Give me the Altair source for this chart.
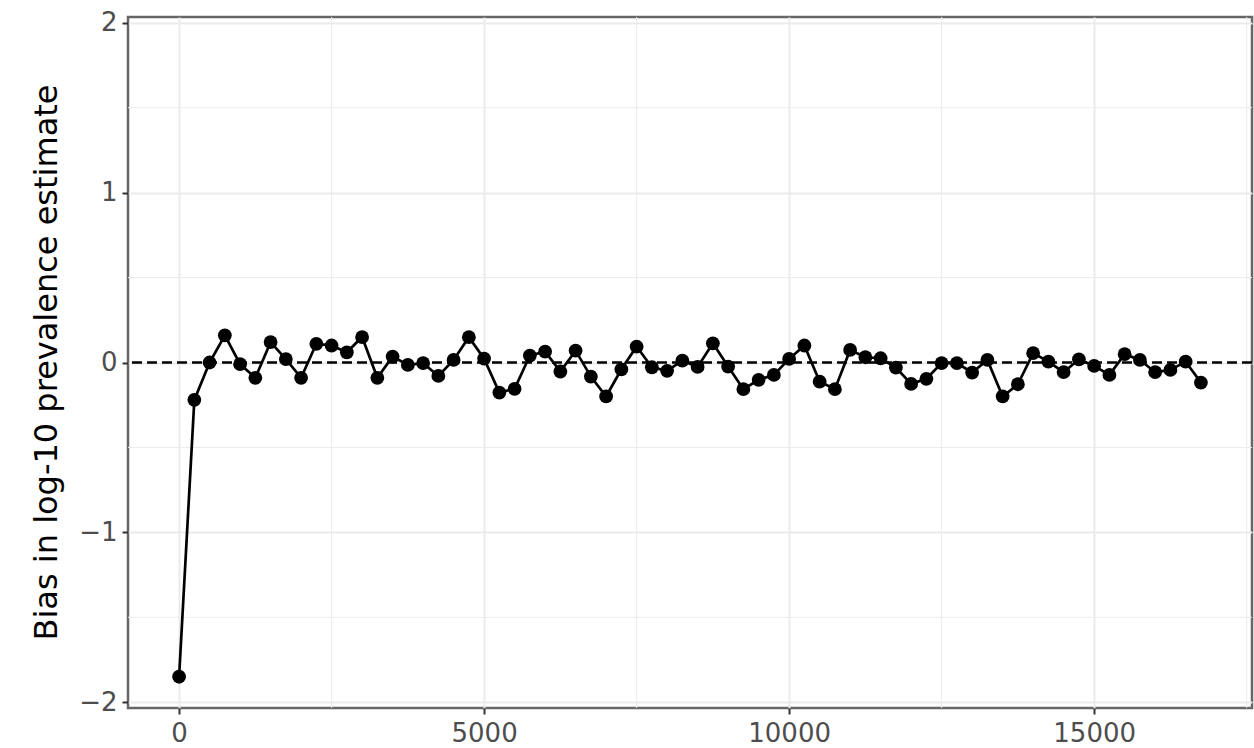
import altair as alt
import pandas as pd

steps = [250 * k for k in range(68)]
bias = [
    -1.85, -0.22, 0.00, 0.16, -0.01, -0.09, 0.12, 0.02, -0.09, 0.11,
    0.10, 0.06, 0.15, -0.09, 0.035, -0.014, -0.004, -0.079, 0.015, 0.149,
    0.023, -0.177, -0.155, 0.041, 0.064, -0.053, 0.07, -0.083, -0.20, -0.04,
    0.094, -0.028, -0.049, 0.011, -0.026, 0.113, -0.024, -0.157, -0.102, -0.073,
    0.021, 0.10, -0.112, -0.157, 0.074, 0.031, 0.025, -0.03, -0.126, -0.096,
    -0.004, -0.004, -0.059, 0.015, -0.20, -0.128, 0.055, 0.005, -0.057, 0.019,
    -0.02, -0.073, 0.049, 0.015, -0.057, -0.044, 0.005, -0.118,
]
x_ticks = [0, 5000, 10000, 15000]
y_ticks = [-2, -1, 0, 1, 2]
x_minor = [2500, 7500, 12500, 17500]
y_minor = [-1.5, -0.5, 0.5, 1.5]

df = pd.DataFrame({"step": steps, "bias": bias})

xs = alt.Scale(domain=[-837.5, 17587.5], nice=False, zero=False)
ys = alt.Scale(domain=[-2.034, 2.034], nice=False, zero=False)

x_axis = alt.Axis(values=x_ticks, format="d", title=None, grid=True, gridColor="#EBEBEB",
                  gridWidth=2, domain=False, tickColor="#333333", tickWidth=2, tickSize=6,
                  labelPadding=6, labelFontSize=26, labelColor="#4D4D4D",
                  labelFont="DejaVu Sans")
y_axis = alt.Axis(values=y_ticks, format="d", title="Bias in log-10 prevalence estimate",
                  grid=True, gridColor="#EBEBEB", gridWidth=2, domain=False,
                  tickColor="#333333", tickWidth=2, tickSize=6, labelPadding=5,
                  labelFontSize=26, labelColor="#4D4D4D", labelFont="DejaVu Sans",
                  titleFont="DejaVu Sans", titleFontSize=32, titleFontWeight="normal",
                  titleColor="#000000", titleX=-82, titleY=345, titleAngle=270,
                  titleAlign="center", titleBaseline="middle")

xminor_df = pd.DataFrame({"v": x_minor})
yminor_df = pd.DataFrame({"v": y_minor})

xmin = alt.Chart(xminor_df).mark_rule(color="#EBEBEB", strokeWidth=1).encode(
    x=alt.X("v:Q", scale=xs, axis=x_axis))
ymin = alt.Chart(yminor_df).mark_rule(color="#EBEBEB", strokeWidth=1).encode(
    y=alt.Y("v:Q", scale=ys, axis=y_axis))

zero = alt.Chart(pd.DataFrame({"z": [0]})).mark_rule(
    color="black", strokeWidth=2.5, strokeDash=[10, 5]).encode(y=alt.Y("z:Q", scale=ys))

line = alt.Chart(df).mark_line(color="black", strokeWidth=2.7).encode(
    x=alt.X("step:Q", scale=xs), y=alt.Y("bias:Q", scale=ys))
pts = alt.Chart(df).mark_circle(color="black", opacity=1, size=190).encode(
    x=alt.X("step:Q", scale=xs), y=alt.Y("bias:Q", scale=ys))

chart = alt.layer(xmin, ymin, zero, line, pts).properties(
    width=1124, height=691,
    autosize=alt.AutoSizeParams(type="none"),
    padding={"left": 128, "top": 17, "right": 2, "bottom": 40},
    view=alt.ViewBackground(stroke="#666666", strokeWidth=2.5),
).configure_view(stroke="#666666", strokeWidth=2.5).configure(background="white")

chart.save("out.html", embed_options={"renderer": "svg", "actions": False})
